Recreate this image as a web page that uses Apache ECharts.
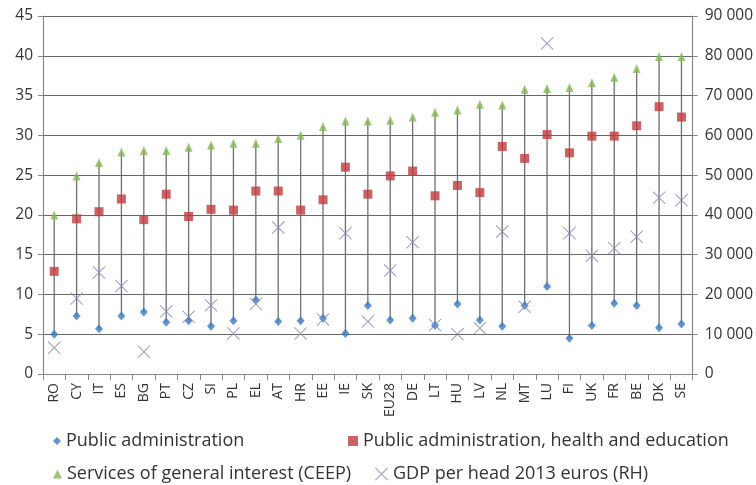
<!DOCTYPE html>
<html>
<head>
<meta charset="utf-8">
<script src="https://cdn.jsdelivr.net/npm/echarts@6/dist/echarts.min.js"></script>
<style>html,body{margin:0;padding:0;background:#fff}#c{width:756px;height:485px}</style>
</head>
<body>
<div id="c"></div>
<script>
const categories = ['RO','CY','IT','ES','BG','PT','CZ','SI','PL','EL','AT','HR','EE','IE','SK','EU28','DE','LT','HU','LV','NL','MT','LU','FI','UK','FR','BE','DK','SE'];
const publicAdmin = [5.0,7.3,5.7,7.3,7.8,6.5,6.7,6.0,6.7,9.3,6.6,6.7,7.0,5.1,8.6,6.8,7.0,6.1,8.8,6.8,6.0,8.6,11.0,4.5,6.1,8.9,8.6,5.8,6.3];
const publicAdminHealthEdu = [12.9,19.5,20.4,22.0,19.4,22.6,19.8,20.7,20.6,23.0,23.0,20.6,21.9,26.0,22.6,24.9,25.5,22.4,23.7,22.8,28.6,27.1,30.1,27.8,29.9,29.9,31.2,33.6,32.3];
const ceep = [20.0,24.9,26.6,27.9,28.1,28.1,28.5,28.8,29.0,29.0,29.6,30.0,31.1,31.8,31.8,31.9,32.3,32.9,33.2,33.9,33.8,35.8,35.9,36.0,36.6,37.3,38.4,39.9,39.9];
const gdpPerHead = [6600,19000,25500,22100,5600,15700,14400,17300,10200,17600,36800,10200,13700,35400,13200,26000,33100,12300,10000,11500,35800,16900,83100,35400,29700,31600,34500,44300,43700];
const leftTicks = {min:0, max:45, interval:5};
const rightTicks = {min:0, max:90000, interval:10000};

const COL = {pa:'#3b79c2', phe:'#c23a3d', ceep:'#84b857', gdp:'#8a8ac0'};
const XPATH = 'path://M0,1.2L1.2,0L10,8.8L18.8,0L20,1.2L11.2,10L20,18.8L18.8,20L10,11.2L1.2,20L0,18.8L8.8,10Z';
const FONT = 'Open Sans';

const hiLo = categories.map((c,i)=>[i, Math.min(publicAdmin[i],publicAdminHealthEdu[i],ceep[i]), Math.max(publicAdmin[i],publicAdminHealthEdu[i],ceep[i])]);

const chart = echarts.init(document.getElementById('c'), null, {renderer:'canvas'});
const legendBase = {orient:'horizontal', itemGap:0, textStyle:{fontFamily:FONT, fontSize:18, color:'#333'}, selectedMode:false};
chart.setOption({
  animation:false,
  textStyle:{fontFamily:FONT},
  grid:{left:43, right:63, top:16, bottom:111, containLabel:false},
  xAxis:{
    type:'category', data:categories, boundaryGap:true,
    axisLine:{lineStyle:{color:'#888', width:1.2}},
    axisTick:{show:true, alignWithLabel:false, length:6, lineStyle:{color:'#888'}},
    axisLabel:{rotate:90, fontSize:14, color:'#333', margin:9, interval:0, fontFamily:FONT}
  },
  yAxis:[
    {type:'value', min:leftTicks.min, max:leftTicks.max, interval:leftTicks.interval,
     axisLine:{show:true, lineStyle:{color:'#888', width:1.2}},
     axisTick:{show:true, length:5, lineStyle:{color:'#888'}},
     axisLabel:{fontSize:15.5, color:'#333', margin:10, fontFamily:FONT},
     splitLine:{show:true, lineStyle:{color:'#666', width:1.1}}},
    {type:'value', min:rightTicks.min, max:rightTicks.max, interval:rightTicks.interval, position:'right',
     axisLine:{show:true, lineStyle:{color:'#888', width:1.2}},
     axisTick:{show:true, length:5, lineStyle:{color:'#888'}},
     axisLabel:{fontSize:15.5, color:'#333', margin:12, fontFamily:FONT,
       formatter:v=>String(v).replace(/\B(?=(\d{3})+(?!\d))/g,' ')},
     splitLine:{show:false}}
  ],
  legend:[
    Object.assign({}, legendBase, {left:48, top:427, data:[{name:'Public administration', icon:'diamond'}], itemWidth:8, itemHeight:8}),
    Object.assign({}, legendBase, {left:343, top:427, data:[{name:'Public administration, health and education', icon:'rect'}], itemWidth:10, itemHeight:10}),
    Object.assign({}, legendBase, {left:48, top:460, data:[{name:'Services of general interest (CEEP)', icon:'triangle'}], itemWidth:9, itemHeight:9}),
    Object.assign({}, legendBase, {left:370, top:460, data:[{name:'GDP per head 2013 euros (RH)', icon:XPATH}], itemWidth:13, itemHeight:13})
  ],
  series:[
    {type:'custom', name:'hilo', yAxisIndex:0, data:hiLo, z:1, silent:true,
     encode:{x:0, y:[1,2]},
     renderItem:(params, api)=>{
       const x = api.value(0);
       const lo = api.coord([x, api.value(1)]);
       const hi = api.coord([x, api.value(2)]);
       return {type:'line', shape:{x1:lo[0], y1:lo[1], x2:hi[0], y2:hi[1]}, style:{stroke:'#6f6f6f', lineWidth:1.3}};
     }},
    {type:'scatter', name:'Public administration', yAxisIndex:0, data:publicAdmin, symbol:'diamond', symbolSize:[8,9], itemStyle:{color:COL.pa}, z:3},
    {type:'scatter', name:'Public administration, health and education', yAxisIndex:0, data:publicAdminHealthEdu, symbol:'rect', symbolSize:9, itemStyle:{color:COL.phe}, z:3},
    {type:'scatter', name:'Services of general interest (CEEP)', yAxisIndex:0, data:ceep, symbol:'triangle', symbolSize:[8,9], itemStyle:{color:COL.ceep}, z:3},
    {type:'scatter', name:'GDP per head 2013 euros (RH)', yAxisIndex:1, data:gdpPerHead, symbol:XPATH, symbolSize:13, itemStyle:{color:COL.gdp}, z:3}
  ]
});
</script>
</body>
</html>
